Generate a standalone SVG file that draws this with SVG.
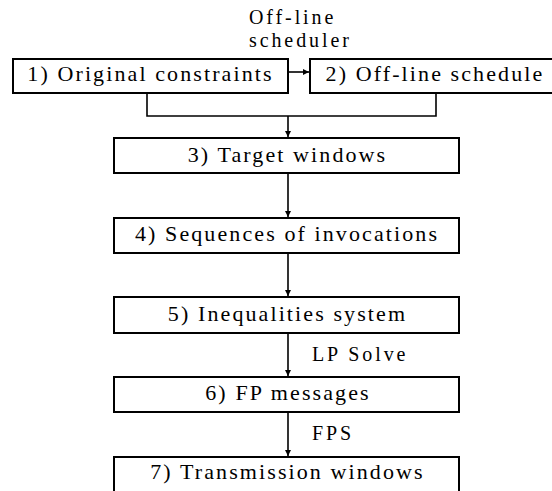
<svg xmlns="http://www.w3.org/2000/svg" width="552" height="491" viewBox="0 0 552 491" font-family="Liberation Serif">
<defs>
<style>
.box{fill:#fff;stroke:#000;stroke-width:2}
.c{fill:none;stroke:#000;stroke-width:1.6}
.t{font-family:'Liberation Serif',serif;font-size:22px;letter-spacing:2.1px;text-anchor:middle;fill:#000}
.l{font-family:'Liberation Serif',serif;font-size:20px;letter-spacing:2.9px;fill:#000}
</style>
<marker id="ah" viewBox="0 0 10 10" refX="10" refY="5" markerWidth="6" markerHeight="7" markerUnits="userSpaceOnUse" orient="auto">
<path d="M0,0 L10,5 L0,10 z" fill="#000"/>
</marker>
</defs>
<rect width="552" height="491" fill="#fff"/>
<g id="title">
<text class="l" x="249" y="24">Off-line</text>
<text class="l" x="249" y="47">scheduler</text>
</g>
<g id="connectors">
<line class="c" x1="288" y1="72" x2="309" y2="72" marker-end="url(#ah)"/>
<polyline class="c" points="147,93 147,116 436,116 436,93"/>
<line class="c" x1="288" y1="116" x2="288" y2="137" marker-end="url(#ah)"/>
<line class="c" x1="288" y1="173" x2="288" y2="217" marker-end="url(#ah)"/>
<line class="c" x1="288" y1="253" x2="288" y2="296" marker-end="url(#ah)"/>
<line class="c" x1="288" y1="333" x2="288" y2="376" marker-end="url(#ah)"/>
<line class="c" x1="288" y1="412" x2="288" y2="456" marker-end="url(#ah)"/>
</g>
<g id="n1">
<rect class="box" x="13" y="59" width="275" height="34"/>
<text class="t" x="150.5" y="81">1) Original constraints</text>
</g>
<g id="n2">
<rect class="box" x="310" y="59" width="245" height="34"/>
<text class="t" x="435" y="81">2) Off-line schedule</text>
</g>
<g id="n3">
<rect class="box" x="114" y="138" width="345" height="35"/>
<text class="t" x="287.5" y="162">3) Target windows</text>
</g>
<g id="n4">
<rect class="box" x="114" y="218" width="345" height="35"/>
<text class="t" x="287" y="241">4) Sequences of invocations</text>
</g>
<g id="n5">
<rect class="box" x="114" y="297" width="345" height="36"/>
<text class="t" x="287.5" y="321">5) Inequalities system</text>
</g>
<g id="n6">
<rect class="box" x="114" y="377" width="345" height="35"/>
<text class="t" x="288" y="400">6) FP messages</text>
</g>
<g id="n7">
<rect class="box" x="114" y="457" width="345" height="40"/>
<text class="t" x="287.5" y="479">7) Transmission windows</text>
</g>
<g id="labels">
<text class="l" x="312" y="361">LP Solve</text>
<text class="l" x="312" y="440">FPS</text>
</g>
</svg>
